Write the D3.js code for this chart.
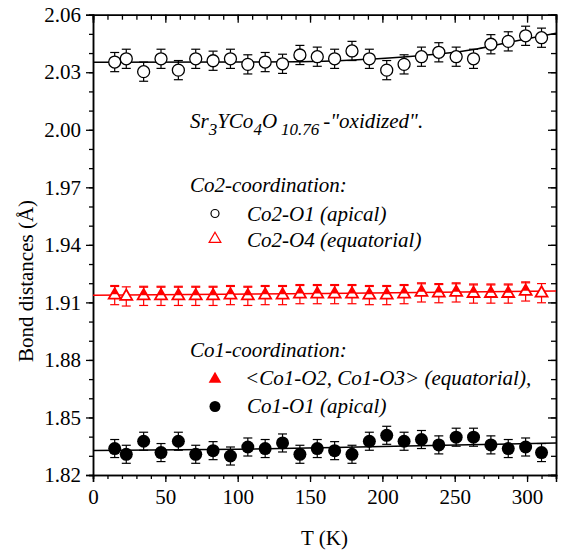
<!DOCTYPE html>
<html>
<head>
<meta charset="utf-8">
<script src="https://cdn.jsdelivr.net/npm/d3@7"></script>
<style>
    body { margin: 0; background: #ffffff; }
    svg { display: block; }
    svg text { font-family: "Liberation Serif", "Times New Roman", serif; }
</style>
</head>
<body>
<div id="graph"></div>
<script>

// Températures mesurées (K)
const temps = [15, 23, 35, 47, 59, 71, 83, 95, 107, 119, 131, 143, 155, 167, 179, 191, 203, 215, 227, 239, 251, 263, 275, 287, 299, 310];
const tempsCo1Eq = [15, 35, 47, 59, 71, 83, 95, 107, 119, 131, 143, 155, 167, 179, 191, 203, 215, 227, 239, 251, 263, 275, 287, 299];

// Co2-O1 (apical), cercles vides
const co2O1 = [2.0353, 2.0370, 2.0303, 2.0370, 2.0311, 2.0370, 2.0360, 2.0370, 2.0341, 2.0353, 2.0344, 2.0390, 2.0381,
    2.0370, 2.0411, 2.0370, 2.0311, 2.0341, 2.0381, 2.0404, 2.0381, 2.0370, 2.0446, 2.0461, 2.0490, 2.0480];
const co2O1Err = 0.005;

// Co2-O4 (equatorial), triangles vides rouges
const co2O4 = [1.9138, 1.9131, 1.9134, 1.9134, 1.9134, 1.9134, 1.9134, 1.9138, 1.9134, 1.9138, 1.9138, 1.9143, 1.9143,
    1.9143, 1.9143, 1.9138, 1.9138, 1.9143, 1.9152, 1.9148, 1.9152, 1.9146, 1.9146, 1.9146, 1.9157, 1.9148];
const co2O4Err = 0.005;

// <Co1-O2, Co1-O3> (equatorial), triangles pleins rouges
const co1Eq = [1.9153, 1.9149, 1.9149, 1.9149, 1.9149, 1.9149, 1.9153, 1.9149, 1.9153, 1.9153, 1.9158, 1.9158,
    1.9158, 1.9158, 1.9153, 1.9153, 1.9158, 1.9167, 1.9163, 1.9167, 1.9161, 1.9161, 1.9161, 1.9172];
const co1EqErr = 0.003;

// Co1-O1 (apical), cercles pleins
const co1O1 = [1.8338, 1.8308, 1.8376, 1.8317, 1.8376, 1.8308, 1.8327, 1.8299, 1.8346, 1.8338, 1.8367, 1.8308, 1.8338,
    1.8327, 1.8308, 1.8376, 1.8407, 1.8376, 1.8385, 1.8357, 1.8397, 1.8397, 1.8357, 1.8338, 1.8346, 1.8317];
const co1O1Err = 0.0047;

// Courbes d'ajustement [T, distance]
const fitTop = [[0, 2.0352], [100, 2.0353], [143, 2.0355], [180, 2.0364], [212, 2.0378], [240, 2.0396], [263, 2.0419], [281, 2.0446], [300, 2.0475], [320, 2.0503]];
const fitRed = [[0, 1.9137], [160, 1.9146], [320, 1.9160]];
const fitBottom = [[0, 1.8328], [100, 1.8334], [200, 1.8349], [320, 1.8367]];

// Graduations
const xTicks = [0, 50, 100, 150, 200, 250, 300];
const xMinor = d3.range(0, 321, 10);
const yTicks = [1.82, 1.85, 1.88, 1.91, 1.94, 1.97, 2.00, 2.03, 2.06];
const yMinor = d3.range(182, 207, 1).map(d => d / 100);

//---------------------------------------------------------------------------------------

// Canevas
const width = 564;
const height = 552;
const margin = {top: 14.7, right: 8, bottom: 77, left: 93};

const svg = d3.select("#graph")
    .append("svg")
    .attr("width", width)
    .attr("height", height);

// Échelles
const scaleX = d3.scaleLinear()
    .domain([0, 320])
    .range([margin.left, width - margin.right]);

const scaleY = d3.scaleLinear()
    .domain([1.82, 2.06])
    .range([height - margin.bottom, margin.top]);

const fontSize = 21;

//---------------------------------------------------------------------------------------

// Axes (gauche / bas : graduations vers l'extérieur, haut / droite : vers l'intérieur)
const styleAxis = g => {
    g.attr("font-family", null);
    g.select(".domain").attr("stroke-width", 1.5);
    g.selectAll(".tick line").attr("stroke-width", 1.3);
    g.selectAll("text").attr("font-size", fontSize).attr("fill", "#000");
};

svg.append("g")
    .attr("transform", `translate(0, ${scaleY(1.82)})`)
    .call(d3.axisBottom(scaleX).tickValues(xMinor).tickSize(4).tickFormat(""))
    .call(styleAxis);
svg.append("g")
    .attr("transform", `translate(0, ${scaleY(1.82)})`)
    .call(d3.axisBottom(scaleX).tickValues(xTicks).tickSize(7).tickPadding(7).tickFormat(d3.format("d")))
    .call(styleAxis);

svg.append("g")
    .attr("transform", `translate(0, ${scaleY(2.06)})`)
    .call(d3.axisTop(scaleX).tickValues(xMinor).tickSize(-5).tickFormat(""))
    .call(styleAxis);
svg.append("g")
    .attr("transform", `translate(0, ${scaleY(2.06)})`)
    .call(d3.axisTop(scaleX).tickValues(xTicks).tickSize(-8).tickFormat(""))
    .call(styleAxis);

svg.append("g")
    .attr("transform", `translate(${scaleX(0)}, 0)`)
    .call(d3.axisLeft(scaleY).tickValues(yMinor).tickSize(4).tickFormat(""))
    .call(styleAxis);
svg.append("g")
    .attr("transform", `translate(${scaleX(0)}, 0)`)
    .call(d3.axisLeft(scaleY).tickValues(yTicks).tickSize(7).tickPadding(5).tickFormat(d3.format(".2f")))
    .call(styleAxis);

svg.append("g")
    .attr("transform", `translate(${scaleX(320)}, 0)`)
    .call(d3.axisRight(scaleY).tickValues(yMinor).tickSize(-5).tickFormat(""))
    .call(styleAxis);
svg.append("g")
    .attr("transform", `translate(${scaleX(320)}, 0)`)
    .call(d3.axisRight(scaleY).tickValues(yTicks).tickSize(-8).tickFormat(""))
    .call(styleAxis);

// Titres des axes
svg.append("text")
    .attr("x", (scaleX(0) + scaleX(320)) / 2)
    .attr("y", 545)
    .attr("text-anchor", "middle")
    .attr("font-size", fontSize)
    .text("T (K)");

svg.append("text")
    .attr("transform", `translate(33, 281) rotate(-90)`)
    .attr("text-anchor", "middle")
    .attr("font-size", fontSize)
    .text("Bond distances (Å)");

//---------------------------------------------------------------------------------------

// Zone de tracé
const plot = svg.append("g");

const line = d3.line()
    .x(d => scaleX(d[0]))
    .y(d => scaleY(d[1]))
    .curve(d3.curveMonotoneX);

plot.append("path").datum(fitTop).attr("d", line).attr("fill", "none").attr("stroke", "#000").attr("stroke-width", 1.5);
plot.append("path").datum(fitRed).attr("d", line).attr("fill", "none").attr("stroke", "#ff0000").attr("stroke-width", 1.5);
plot.append("path").datum(fitBottom).attr("d", line).attr("fill", "none").attr("stroke", "#000").attr("stroke-width", 1.5);

// Barres d'erreur
function errorBars(xs, ys, err, color) {
    const g = plot.append("g").attr("stroke", color).attr("stroke-width", 1.2);
    const pts = xs.map((t, i) => ({t: t, v: ys[i]}));
    g.selectAll(".v").data(pts).join("line")
        .attr("x1", d => scaleX(d.t)).attr("x2", d => scaleX(d.t))
        .attr("y1", d => scaleY(d.v - err)).attr("y2", d => scaleY(d.v + err));
    g.selectAll(".top").data(pts).join("line").attr("class", "top")
        .attr("x1", d => scaleX(d.t) - 4.5).attr("x2", d => scaleX(d.t) + 4.5)
        .attr("y1", d => scaleY(d.v + err)).attr("y2", d => scaleY(d.v + err));
    g.selectAll(".bot").data(pts).join("line").attr("class", "bot")
        .attr("x1", d => scaleX(d.t) - 4.5).attr("x2", d => scaleX(d.t) + 4.5)
        .attr("y1", d => scaleY(d.v - err)).attr("y2", d => scaleY(d.v - err));
}

errorBars(temps, co2O1, co2O1Err, "#000");
errorBars(temps, co2O4, co2O4Err, "#ff0000");
errorBars(tempsCo1Eq, co1Eq, co1EqErr, "#ff0000");
errorBars(temps, co1O1, co1O1Err, "#000");

// Marqueurs
const triBig = d3.symbol(d3.symbolTriangle, 62);
const triSmall = d3.symbol(d3.symbolTriangle, 24);

plot.append("g").selectAll("circle")
    .data(temps)
    .join("circle")
    .attr("cx", d => scaleX(d))
    .attr("cy", (d, i) => scaleY(co2O1[i]))
    .attr("r", 6)
    .attr("fill", "#fff")
    .attr("stroke", "#000")
    .attr("stroke-width", 1.3);

plot.append("g").selectAll("path")
    .data(temps)
    .join("path")
    .attr("d", triBig)
    .attr("transform", (d, i) => `translate(${scaleX(d)}, ${scaleY(co2O4[i])})`)
    .attr("fill", "#fff")
    .attr("stroke", "#ff0000")
    .attr("stroke-width", 1.8);

plot.append("g").selectAll("path")
    .data(tempsCo1Eq)
    .join("path")
    .attr("d", triSmall)
    .attr("transform", (d, i) => `translate(${scaleX(d)}, ${scaleY(co1Eq[i])})`)
    .attr("fill", "#ff0000");

plot.append("g").selectAll("circle")
    .data(temps)
    .join("circle")
    .attr("cx", d => scaleX(d))
    .attr("cy", (d, i) => scaleY(co1O1[i]))
    .attr("r", 6.5)
    .attr("fill", "#000");

//---------------------------------------------------------------------------------------

// Légende et annotations
const note = svg.append("g")
    .attr("font-size", fontSize)
    .attr("font-style", "italic");

const formula = note.append("text").attr("x", 190).attr("y", 128);
formula.append("tspan").text("Sr");
formula.append("tspan").attr("dy", 7).attr("font-size", 17).text("3");
formula.append("tspan").attr("dy", -7).text("YCo");
formula.append("tspan").attr("dy", 7).attr("font-size", 17).text("4");
formula.append("tspan").attr("dy", -7).text("O");
formula.append("tspan").attr("dy", 7).attr("dx", 4).attr("font-size", 17).text("10.76");
formula.append("tspan").attr("dy", -7).attr("dx", 4).text("-\"oxidized\".");

note.append("text").attr("x", 190).attr("y", 192).text("Co2-coordination:");
note.append("text").attr("x", 247).attr("y", 221).text("Co2-O1 (apical)");
note.append("text").attr("x", 247).attr("y", 247).text("Co2-O4 (equatorial)");

note.append("text").attr("x", 190).attr("y", 357).text("Co1-coordination:");
note.append("text").attr("x", 245).attr("y", 385).text("<Co1-O2, Co1-O3> (equatorial),");
note.append("text").attr("x", 247).attr("y", 413).text("Co1-O1 (apical)");

svg.append("circle").attr("cx", 215).attr("cy", 213.5).attr("r", 4)
    .attr("fill", "none").attr("stroke", "#000").attr("stroke-width", 1.2);
svg.append("path").attr("d", d3.symbol(d3.symbolTriangle, 60))
    .attr("transform", "translate(215, 239)")
    .attr("fill", "none").attr("stroke", "#ff0000").attr("stroke-width", 1.2);
svg.append("path").attr("d", d3.symbol(d3.symbolTriangle, 70))
    .attr("transform", "translate(215, 379)")
    .attr("fill", "#ff0000");
svg.append("circle").attr("cx", 215).attr("cy", 406.5).attr("r", 5.5)
    .attr("fill", "#000");

</script>
</body>
</html>
